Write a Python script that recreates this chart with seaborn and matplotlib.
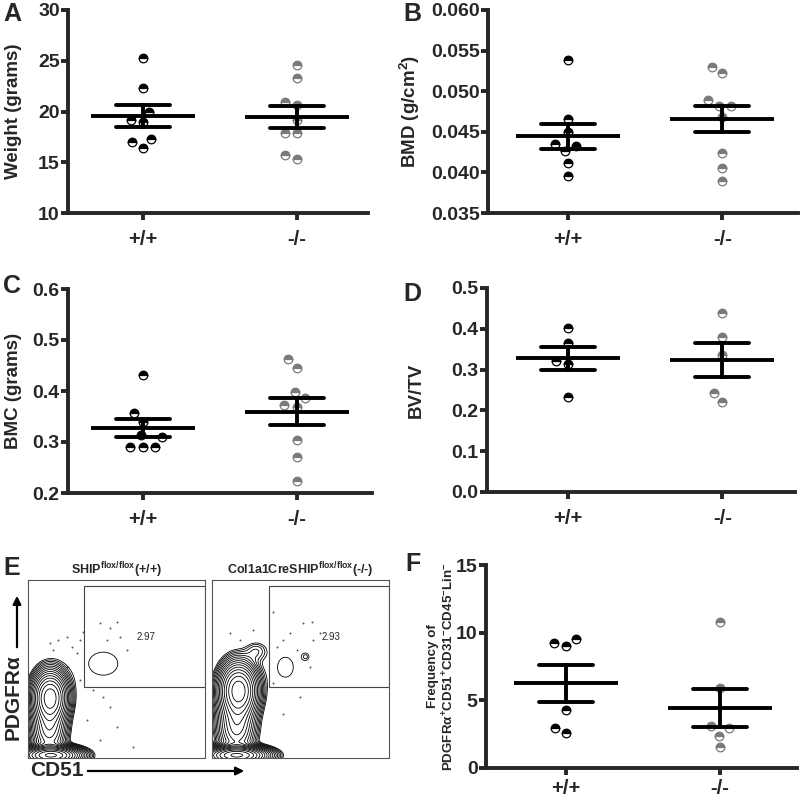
import numpy as np
import pandas as pd
import matplotlib
matplotlib.use("Agg")
import matplotlib.pyplot as plt
import seaborn as sns
from matplotlib.patches import Rectangle, FancyArrowPatch
from matplotlib.ticker import FormatStrFormatter

# genotypes and their dot colours
GROUPS = ["+/+", "-/-"]
GROUP_COLORS = ["black", "#7a7a7a"]

# values, one list per group
weight_wt = [25.3, 22.3, 20.0, 19.2, 19.0, 17.3, 16.4, 17.0]
weight_ko = [24.6, 23.3, 20.9, 20.6, 19.2, 17.9, 17.85, 15.7, 15.3]
bmd_wt = [0.0538, 0.0466, 0.0450, 0.0435, 0.0433, 0.0426, 0.0412, 0.0396]
bmd_ko = [0.0530, 0.0523, 0.0489, 0.0482, 0.0482, 0.0468, 0.0424, 0.0405, 0.0389]
bmc_wt = [0.431, 0.357, 0.340, 0.313, 0.309, 0.290, 0.290, 0.290]
bmc_ko = [0.462, 0.445, 0.399, 0.386, 0.372, 0.369, 0.304, 0.271, 0.223]
bvtv_wt = [0.402, 0.366, 0.322, 0.313, 0.234]
bvtv_ko = [0.439, 0.381, 0.336, 0.243, 0.221]
freq_wt = [9.52, 9.02, 9.27, 4.25, 2.58, 2.95]
freq_ko = [10.82, 5.9, 3.07, 2.95, 2.39, 1.52]

# flow plots (panel E): density blobs as (x, y, sd x, sd y, height), plot units 0..1
wt_blobs = [(0.125, 0.34, 0.05, 0.075, 1.0), (0.12, 0.16, 0.05, 0.08, 0.3),
            (0.13, 0.015, 0.08, 0.025, 2.0), (0.425, 0.53, 0.14, 0.11, 0.019)]
ko_blobs = [(0.15, 0.38, 0.055, 0.08, 1.0), (0.14, 0.18, 0.055, 0.09, 0.3),
            (0.14, 0.015, 0.085, 0.025, 2.0), (0.25, 0.60, 0.04, 0.035, 0.035),
            (0.415, 0.51, 0.075, 0.095, 0.019), (0.53, 0.57, 0.02, 0.02, 0.019)]
wt_dots_x = [0.124, 0.143, 0.171, 0.218, 0.247, 0.275, 0.294, 0.313, 0.407, 0.463, 0.501, 0.52,
             0.558, 0.444, 0.218, 0.294, 0.369, 0.426, 0.463, 0.332, 0.407, 0.501, 0.595]
wt_dots_y = [0.644, 0.607, 0.663, 0.682, 0.625, 0.588, 0.663, 0.71, 0.757, 0.728, 0.766, 0.682,
             0.607, 0.663, 0.513, 0.438, 0.382, 0.345, 0.288, 0.213, 0.101, 0.176, 0.064]
ko_dots_x = [0.102, 0.158, 0.233, 0.347, 0.365, 0.403, 0.441, 0.478, 0.516, 0.563, 0.572, 0.61,
             0.554, 0.347, 0.403, 0.497]
ko_dots_y = [0.70, 0.663, 0.719, 0.822, 0.625, 0.663, 0.70, 0.607, 0.757, 0.766, 0.663, 0.70,
             0.513, 0.42, 0.25, 0.345]
wt_gate = (0.316, 0.40, 0.966)
ko_gate = (0.322, 0.40, 0.966)
wt_pct = "2.97"
ko_pct = "2.93"

sns.set_style("ticks")
plt.rcParams["font.family"] = ["Liberation Sans", "DejaVu Sans"]
plt.rcParams["font.weight"] = "bold"
plt.rcParams["axes.labelweight"] = "bold"
plt.rcParams["axes.titleweight"] = "bold"
plt.rcParams["mathtext.fontset"] = "custom"
plt.rcParams["mathtext.rm"] = "Liberation Sans"
plt.rcParams["mathtext.bf"] = "Liberation Sans:bold"
plt.rcParams["mathtext.default"] = "bf"

W, H = 800, 797
fig = plt.figure(figsize=(W / 100, H / 100), dpi=100)


def px_axes(left, top, right, bottom):
    return fig.add_axes([left / W, 1 - bottom / H, (right - left) / W, (bottom - top) / H])


LW = 2.8
swarms = []


def dot_panel(ax, wt, ko, ylim, step, fmt, ylabel, xlim, label_x, label_y=0.5,
              label_size=13.5, xpad=7):
    df = pd.DataFrame({"genotype": [GROUPS[0]] * len(wt) + [GROUPS[1]] * len(ko),
                       "value": wt + ko})
    sns.swarmplot(data=df, x="genotype", y="value", order=GROUPS, size=8.5,
                  color="white", linewidth=0, ax=ax)
    swarms.append((ax, list(ax.collections)))
    sns.pointplot(data=df, x="genotype", y="value", order=GROUPS, errorbar="se",
                  capsize=0.35, color="black", marker="_", markersize=75,
                  markeredgewidth=LW, linestyle="none",
                  err_kws={"linewidth": LW, "zorder": 5}, zorder=5, ax=ax)
    ax.set_xlim(*xlim)
    ax.set_ylim(*ylim)
    ax.set_yticks(np.arange(ylim[0], ylim[1] + step / 2, step))
    ax.yaxis.set_major_formatter(FormatStrFormatter(fmt))
    ax.set_xlabel("")
    ax.set_ylabel(ylabel, fontsize=label_size)
    ax.yaxis.set_label_coords(label_x, label_y)
    sns.despine(ax=ax)
    for s in ["left", "bottom"]:
        ax.spines[s].set_linewidth(LW)
    ax.tick_params(axis="y", length=5, width=LW, pad=1, labelsize=14)
    ax.tick_params(axis="x", length=5, width=LW, pad=xpad, labelsize=14.5)


axA = px_axes(68, 10, 368, 213)
dot_panel(axA, weight_wt, weight_ko, (10, 30), 5, "%d", "Weight (grams)", (-0.487, 1.461), -0.153)
axB = px_axes(488, 10, 798, 213)
dot_panel(axB, bmd_wt, bmd_ko, (0.035, 0.060), 0.005, "%.3f", "BMD (g/cm$^\\mathbf{2}$)", (-0.52, 1.49), -0.213)
axC = px_axes(68, 289, 372, 493)
dot_panel(axC, bmc_wt, bmc_ko, (0.2, 0.6), 0.1, "%.1f", "BMC (grams)", (-0.487, 1.49), -0.151)
axD = px_axes(487, 288, 795, 492)
dot_panel(axD, bvtv_wt, bvtv_ko, (0.0, 0.5), 0.1, "%.1f", "BV/TV", (-0.525, 1.47), -0.2025)
axF = px_axes(486, 565, 797, 768)
dot_panel(axF, freq_wt, freq_ko, (0, 15), 5, "%d",
          "Frequency of\nPDGFR\u03b1$^{+}$CD51$^{+}$CD31$^{-}$CD45$^{-}$Lin$^{-}$",
          (-0.52, 1.5), -0.093, 0.5, 9.6, xpad=3)

# panel E: two gated contour plots
FLOW_LEVELS = np.geomspace(0.016, 1.9, 18)


def flow_panel(ax, blobs, dx, dy, gate, pct, title):
    g = np.linspace(0, 1, 300)
    X, Y = np.meshgrid(g, g)
    Z = np.zeros_like(X)
    for cx, cy, sx, sy, h in blobs:
        Z += h * np.exp(-0.5 * (((X - cx) / sx) ** 2 + ((Y - cy) / sy) ** 2))
    ax.contour(X, Y, Z, levels=FLOW_LEVELS, colors="black", linewidths=0.6)
    sns.scatterplot(x=dx, y=dy, s=2, color="#555555", linewidth=0, ax=ax)
    ax.add_patch(Rectangle((gate[0], gate[1]), 1 - gate[0], gate[2] - gate[1],
                           fill=False, ec="#444444", lw=0.8))
    ax.text(gate[0] + 0.35, 0.68, pct, fontsize=7, fontweight="normal", ha="center", va="center")
    ax.set_xlim(0, 1)
    ax.set_ylim(0, 1)
    ax.set_xticks([])
    ax.set_yticks([])
    for s in ax.spines.values():
        s.set_color("#555555")
        s.set_linewidth(0.8)
    ax.set_title(title, fontsize=9, pad=3)


axE1 = px_axes(28, 580, 205, 758)
flow_panel(axE1, wt_blobs, wt_dots_x, wt_dots_y, wt_gate, wt_pct, "SHIP$^{flox/flox}$(+/+)")
axE2 = px_axes(212, 580, 389, 758)
flow_panel(axE2, ko_blobs, ko_dots_x, ko_dots_y, ko_gate, ko_pct, "Col1a1CreSHIP$^{flox/flox}$(-/-)")

fig.text(13 / W, 1 - 697 / H, "PDGFR\u03b1", rotation=90, fontsize=15, ha="center", va="center")
fig.text(57 / W, 1 - 770 / H, "CD51", fontsize=15, ha="center", va="center")
for (x0, y0), (x1, y1) in [((17, 650), (17, 593)), ((85, 771), (247, 771))]:
    fig.add_artist(FancyArrowPatch((x0 / W, 1 - y0 / H), (x1 / W, 1 - y1 / H),
                                   transform=fig.transFigure, arrowstyle="-|>",
                                   mutation_scale=12, lw=1.6, color="black"))

# panel letters
for letter, x, y in [("A", 3, 2), ("B", 403, 2), ("C", 3, 274), ("D", 403, 282),
                     ("E", 3, 556), ("F", 405, 552)]:
    fig.text(x / W, 1 - y / H, letter, fontsize=18, ha="left", va="top")

# swarm positions are only known after a draw; then swap in half-filled dots
fig.canvas.draw()
for ax, cols in swarms:
    for col in cols:
        off = np.asarray(col.get_offsets())
        if len(off) == 0:
            continue
        c = GROUP_COLORS[int(round(off[:, 0].mean()))]
        ax.plot(off[:, 0], off[:, 1], linestyle="none", marker="o", ms=6.2,
                fillstyle="top", markerfacecolor=c, markerfacecoloralt="white",
                markeredgecolor=c, markeredgewidth=0.9, zorder=3, clip_on=False)
        col.remove()

fig.savefig("out.png", dpi=100)
